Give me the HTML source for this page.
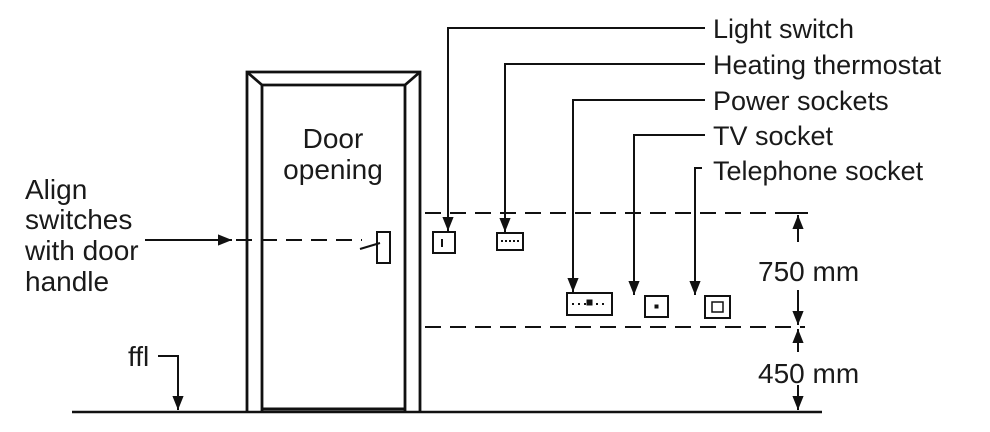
<!DOCTYPE html>
<html><head><meta charset="utf-8"><style>
html,body{margin:0;padding:0;background:#fff;width:990px;height:432px;overflow:hidden}
svg{display:block}
text{font-family:"Liberation Sans",Arial,sans-serif;fill:#1a1a1a}
</style></head><body>
<svg width="990" height="432" viewBox="0 0 990 432">
<defs>
<marker id="ah" viewBox="0 0 10 10" refX="10" refY="5" markerWidth="7" markerHeight="7" orient="auto-start-reverse"><path d="M0,1 L10,5 L0,9 z" fill="#111"/></marker>
</defs>
<g stroke="#111" fill="none">
<line x1="72" y1="412" x2="822" y2="412" stroke-width="2.5"/>
<g stroke-width="2.8">
<path d="M247,412 V72 H420 V412"/>
<path d="M262,412 V85 H405 V412"/>
<line x1="247" y1="72" x2="262" y2="85"/><line x1="420" y1="72" x2="405" y2="85"/>
<line x1="262" y1="409" x2="405" y2="409" stroke-width="3"/>
</g>
<g stroke-width="2">
<rect x="377" y="232" width="13" height="31"/>
<line x1="360" y1="249" x2="380" y2="243"/>
</g>
<line x1="145" y1="240" x2="232" y2="240" stroke-width="2" marker-end="url(#ah)"/>
<line x1="236" y1="240" x2="362" y2="240" stroke-width="2" stroke-dasharray="16,9"/>
<line x1="425" y1="213" x2="805" y2="213" stroke-width="2" stroke-dasharray="16,9"/>
<line x1="425" y1="327" x2="805" y2="327" stroke-width="2" stroke-dasharray="16,9"/>
<path d="M158,356 H178 V410" stroke-width="2" marker-end="url(#ah)"/>
<g stroke-width="2">
<path d="M705,28 H448 V231" marker-end="url(#ah)"/>
<path d="M705,64 H505 V232" marker-end="url(#ah)"/>
<path d="M705,100 H573 V292" marker-end="url(#ah)"/>
<path d="M705,135 H634 V295" marker-end="url(#ah)"/>
<path d="M702,168 H695 V295" marker-end="url(#ah)"/>
</g>
<g stroke-width="2">
<rect x="433" y="232" width="22" height="21"/>
<rect x="497" y="233" width="26" height="17"/>
<rect x="567" y="293" width="45" height="22"/>
<rect x="645" y="296" width="23" height="21"/>
<rect x="705" y="296" width="25" height="22"/>
<rect x="712" y="302" width="11" height="10" stroke-width="1.5"/>
</g>
<line x1="442" y1="239" x2="442" y2="247" stroke-width="2"/>
<line x1="501" y1="241" x2="519" y2="241" stroke-width="2" stroke-dasharray="2,2"/>
<line x1="572" y1="304" x2="607" y2="304" stroke-width="2" stroke-dasharray="2,4"/>
<rect x="587" y="300" width="5" height="5" fill="#111"/>
<rect x="655" y="305" width="3" height="3" fill="#111"/>
<g stroke-width="2">
<line x1="788" y1="213" x2="808" y2="213"/>
<line x1="798" y1="242" x2="798" y2="215" marker-end="url(#ah)"/>
<line x1="798" y1="290" x2="798" y2="325" marker-end="url(#ah)"/>
<line x1="798" y1="352" x2="798" y2="329" marker-end="url(#ah)"/>
<line x1="798" y1="385" x2="798" y2="410" marker-end="url(#ah)"/>
</g>
</g>
<g font-size="28">
<text x="333" y="148" text-anchor="middle">Door</text>
<text x="333" y="179" text-anchor="middle">opening</text>
<text x="25" y="199">Align</text>
<text x="25" y="229">switches</text>
<text x="25" y="260">with door</text>
<text x="25" y="291">handle</text>
<text x="128" y="366">ffl</text>
<text x="758" y="281">750 mm</text>
<text x="758" y="383">450 mm</text>
</g>
<g font-size="27">
<text x="713" y="38">Light switch</text>
<text x="713" y="74">Heating thermostat</text>
<text x="713" y="110">Power sockets</text>
<text x="713" y="145">TV socket</text>
<text x="713" y="180">Telephone socket</text>
</g>
</svg>
</body></html>
